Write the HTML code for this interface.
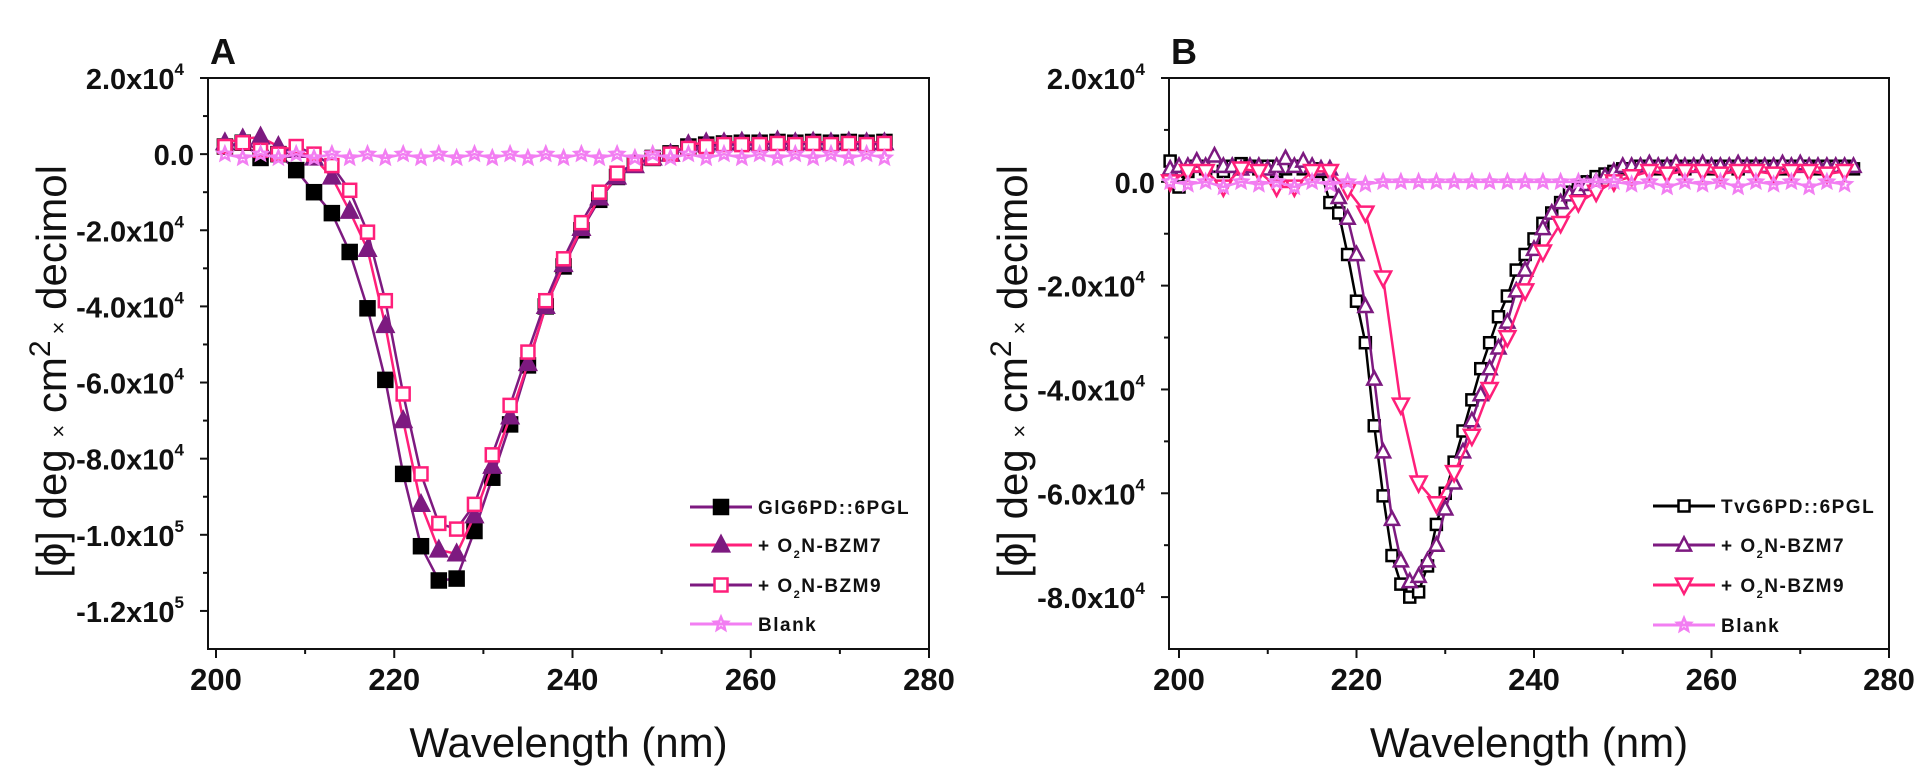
<!DOCTYPE html>
<html><head><meta charset="utf-8">
<style>
html,body{margin:0;padding:0;background:#fff;}
svg{display:block;font-family:"Liberation Sans",Arial,sans-serif;}
</style></head>
<body>
<svg id="fig" width="1930" height="778" viewBox="0 0 1930 778" xmlns="http://www.w3.org/2000/svg"></svg>
<script>
// ---------- Panel A data ----------
const xA = [201,203,205,207,209,211,213,215,217,219,221,223,225,227,229,231,233,235,237,239,241,243,245,247,249,251,253,255,257,259,261,263,265,267,269,271,273,275];
const aGl = [2000,3000,-1000,0,-4200,-10000,-15500,-25700,-40500,-59300,-84000,-103000,-112000,-111500,-99000,-85000,-71000,-55500,-40000,-29500,-20000,-12000,-6000,-2700,-1000,200,2000,2500,2800,3000,3000,3200,3000,3200,3000,3200,3000,3200];
const aBzm7 = [3000,4000,4500,2000,1000,-1000,-6000,-15000,-25000,-45000,-70000,-92000,-104000,-105000,-95000,-82000,-69000,-55000,-40000,-29000,-19500,-11500,-6000,-3000,-1000,0,2500,3000,3000,3200,3000,3500,3000,3200,3000,3200,3000,3000];
const aBzm9 = [2000,3000,1000,0,2000,0,-3000,-9500,-20500,-38500,-63000,-84000,-97000,-98500,-92000,-79000,-66000,-52000,-38500,-27500,-18000,-10000,-5000,-2500,-1000,0,1500,2000,2500,2500,2500,2800,2500,2800,2500,2800,2500,2800];
const aBlank = [0,-1000,0,-1000,0,-1000,0,-1000,0,-1000,0,-1000,0,-1000,0,-1000,0,-1000,0,-1000,0,-1000,0,-1000,0,-1000,0,-1000,0,-1000,0,-1000,0,-1000,0,-1000,0,-1000];
// ---------- Panel B data ----------
const xB1 = [199,200,201,202,203,204,205,206,207,208,209,210,211,212,213,214,215,216,217,218,219,220,221,222,223,224,225,226,227,228,229,230,231,232,233,234,235,236,237,238,239,240,241,242,243,244,245,246,247,248,249,250,251,252,253,254,255,256,257,258,259,260,261,262,263,264,265,266,267,268,269,270,271,272,273,274,275,276];
const bTv = [4000,-1000,2000,3000,2500,3000,2000,3000,3500,3000,2500,3000,2000,2500,3000,2500,2500,2000,-4000,-6000,-14000,-23000,-31000,-47000,-60500,-72000,-77500,-80000,-79000,-74000,-66000,-60000,-54000,-48000,-42000,-36000,-31000,-26000,-22000,-17000,-14000,-11000,-8000,-6000,-4000,-2000,-1000,0,1000,1500,2000,2500,2500,3000,3000,2500,3000,3000,2500,3000,3000,2500,3000,3000,2500,3000,3000,3000,3000,2500,3000,3000,3000,2500,3000,3000,3000,2500];
const bBzm7 = [2500,3000,3000,4000,3000,5000,3000,3000,2500,3000,3000,2500,3000,4500,3000,4000,3000,2500,2500,-3000,-7000,-14000,-24000,-38000,-52000,-65000,-73000,-77000,-76000,-73000,-70000,-63000,-58000,-52000,-46000,-41000,-36000,-32000,-27000,-21000,-17000,-13000,-9000,-6000,-4000,-2500,-1500,-500,0,1000,2000,3000,3000,3000,3500,3000,3000,3500,3000,3000,3500,3000,3000,3000,3500,3000,3000,3000,3000,3500,3000,3500,3000,3000,3000,3000,3000,3000];
const xB2 = [199,201,203,205,207,209,211,213,215,217,219,221,223,225,227,229,231,233,235,237,239,241,243,245,247,249,251,253,255,257,259,261,263,265,267,269,271,273,275];
const bBzm9 = [0,2000,2000,-1000,2500,2000,-1000,-1000,2000,2000,-1500,-6000,-18500,-43000,-58000,-62000,-56000,-49000,-40000,-30000,-21000,-13500,-8000,-4000,-2000,0,1000,2000,1500,2000,2000,1500,2000,2000,1500,2000,2000,1500,2000];
const bBlank = [0,-500,0,-1000,0,-500,0,-1000,0,-500,0,-500,0,0,0,0,0,0,0,0,0,0,0,0,0,0,-500,0,-1000,0,-500,0,-1000,0,-500,0,-1000,0,-500];
// ticks
const xTicks = [200,220,240,260,280];
const yTicksA = [20000,0,-20000,-40000,-60000,-80000,-100000,-120000];
const yTicksB = [20000,0,-20000,-40000,-60000,-80000];
const legendA = ["GlG6PD::6PGL","+ O2N-BZM7","+ O2N-BZM9","Blank"];
const legendB = ["TvG6PD::6PGL","+ O2N-BZM7","+ O2N-BZM9","Blank"];

const NS="http://www.w3.org/2000/svg";
const svg=document.getElementById('fig');
function mk(tag,attrs,parent){const e=document.createElementNS(NS,tag);for(const k in attrs)e.setAttribute(k,attrs[k]);(parent||svg).appendChild(e);return e;}

const PURPLE="#7d1a80", PINK="#ff1f7a", VIOLET="#f27ef2";

function panel(cfg){
  const g=mk('g',{});
  
  
  const sx=v=>cfg.x200+(v-200)*(cfg.x280-cfg.x200)/80;
  const sy=v=>cfg.top+(cfg.yMax-v)*(cfg.bottom-cfg.top)/(cfg.yMax-cfg.yMin);
  // frame
  const fr=mk('rect',{x:cfg.left,y:cfg.top,width:cfg.x280-cfg.left,height:cfg.bottom-cfg.top,fill:'none',stroke:'#111','stroke-width':2},g);
  
  
  // x ticks
  xTicks.forEach(t=>{
    const x=sx(t);
    mk('line',{x1:x,x2:x,y1:cfg.bottom,y2:cfg.bottom+9,stroke:'#111','stroke-width':2},g);
    if(t<280) mk('line',{x1:sx(t+10),x2:sx(t+10),y1:cfg.bottom,y2:cfg.bottom+5,stroke:'#111','stroke-width':2},g);
    const tx=mk('text',{x:x,y:cfg.bottom+41,'text-anchor':'middle','font-size':31,'font-weight':'bold',fill:'#111'},g);
    tx.textContent=t;
    
    
  });
  // y ticks
  cfg.yTicks.forEach(t=>{
    const y=sy(t);
    mk('line',{x1:cfg.left-8,x2:cfg.left,y1:y,y2:y,stroke:'#111','stroke-width':2},g);
    const ym=sy(t-10000);
    if(ym<cfg.bottom-2) mk('line',{x1:cfg.left-5,x2:cfg.left,y1:ym,y2:ym,stroke:'#111','stroke-width':2},g);
    const tx=mk('text',{x:cfg.left-24,y:y+11,'text-anchor':'end','font-size':29,'font-weight':'bold',fill:'#111'},g);
    
    
    if(t===0){tx.textContent='0.0';tx.setAttribute('x',cfg.left-14);}
    else{
      const e=Math.floor(Math.log10(Math.abs(t)));
      const m=(t/Math.pow(10,e)).toFixed(1);
      tx.textContent=m+'x10';
      const s=mk('tspan',{dy:-14,'font-size':17},tx); s.textContent=e;
    }
  });
  // axis titles
  const xt=mk('text',{x:(cfg.left+cfg.x280)/2,y:757,'text-anchor':'middle','font-size':42,fill:'#111'},g);
  xt.textContent='Wavelength (nm)';
  
  
  const yt=mk('text',{x:0,y:0,'text-anchor':'middle','font-size':42,fill:'#111',transform:`translate(${cfg.left-142},${(cfg.top+cfg.bottom)/2+8}) rotate(-90)`},g);
  
  
  yt.innerHTML='[ϕ] deg <tspan font-size="22">×</tspan> cm<tspan dy="-16" font-size="30">2</tspan><tspan dy="16" font-size="22"> ×</tspan> decimol';
  const pl=mk('text',{x:cfg.left+2,y:cfg.top-14,'font-size':36,'font-weight':'bold',fill:'#111'},g);
  pl.textContent=cfg.label;
  
  
  // series
  cfg.series.forEach(s=>{
    const sg=mk('g',{},g);
    
    
    const pts=s.x.map((v,i)=>sx(v)+','+sy(s.y[i])).join(' ');
    mk('polyline',{points:pts,fill:'none',stroke:s.line,'stroke-width':2.5},sg);
    s.x.forEach((v,i)=>{
      const m=marker(s.marker,sx(v),sy(s.y[i]),s.size,s.edge,s.fill,sg);
      
      
    });
  });
  // legend
  cfg.legend.forEach((lab,i)=>{
    const s=cfg.series[i];
    const y=cfg.legY[i];
    const lg=mk('g',{},g);
    
    
    mk('line',{x1:cfg.legX,x2:cfg.legX+62,y1:y,y2:y,stroke:s.line,'stroke-width':3},lg);
    marker(s.marker,cfg.legX+31,y,s.size,s.edge,s.fill,lg);
    const t=mk('text',{x:cfg.legX+68,y:y+7,'font-size':19,'font-weight':'bold',fill:'#111','letter-spacing':1.5},lg);
    if(lab.indexOf('O2N')>=0){t.innerHTML='+ O<tspan dy="6" font-size="11">2</tspan><tspan dy="-6">N-BZM'+lab.slice(-1)+'</tspan>';}
    else t.textContent=lab;
  });
}
function marker(type,x,y,sz,edge,fill,parent){
  const h=sz/2;
  if(type==='sq') return mk('rect',{x:x-h,y:y-h,width:sz,height:sz,fill:fill,stroke:edge,'stroke-width':2.5},parent);
  if(type==='tri') return mk('polygon',{points:`${x},${y-h*1.1} ${x+h},${y+h*0.8} ${x-h},${y+h*0.8}`,fill:fill,stroke:edge,'stroke-width':2.5},parent);
  if(type==='itri') return mk('polygon',{points:`${x},${y+h*1.1} ${x+h},${y-h*0.8} ${x-h},${y-h*0.8}`,fill:fill,stroke:edge,'stroke-width':2.5},parent);
  let p=[];for(let k=0;k<10;k++){const r=k%2?h*0.45:h;const a=-Math.PI/2+k*Math.PI/5;p.push((x+r*Math.cos(a)).toFixed(1)+','+(y+r*Math.sin(a)).toFixed(1));}
  return mk('polygon',{points:p.join(' '),fill:'none',stroke:edge,'stroke-width':2.5},parent);
}

panel({name:'panel-a',label:'A',left:208,x200:216,x280:929,top:78,bottom:649,yMax:20000,yMin:-130000,yTicks:yTicksA,
  legend:legendA,legX:690,legY:[507,545,585,624],
  series:[
   {name:'series-glg6pd',x:xA,y:aGl,marker:'sq',size:14,edge:'#000',fill:'#000',line:PURPLE},
   {name:'series-a-bzm7',x:xA,y:aBzm7,marker:'tri',size:16,edge:PURPLE,fill:PURPLE,line:PINK},
   {name:'series-a-bzm9',x:xA,y:aBzm9,marker:'sq',size:13,edge:PINK,fill:'#fff',line:PURPLE},
   {name:'series-a-blank',x:xA,y:aBlank,marker:'star',size:14,edge:VIOLET,fill:'none',line:VIOLET}]});
panel({name:'panel-b',label:'B',left:1169,x200:1179,x280:1889,top:78,bottom:649,yMax:20000,yMin:-90000,yTicks:yTicksB,
  legend:legendB,legX:1653,legY:[506,545,585,625],
  series:[
   {name:'series-tvg6pd',x:xB1,y:bTv,marker:'sq',size:11,edge:'#000',fill:'#fff',line:'#000'},
   {name:'series-b-bzm7',x:xB1,y:bBzm7,marker:'tri',size:14,edge:PURPLE,fill:'#fff',line:PURPLE},
   {name:'series-b-bzm9',x:xB2,y:bBzm9,marker:'itri',size:16,edge:PINK,fill:'#fff',line:PINK},
   {name:'series-b-blank',x:xB2,y:bBlank,marker:'star',size:14,edge:VIOLET,fill:'none',line:VIOLET}]});
</script>
</body></html>
